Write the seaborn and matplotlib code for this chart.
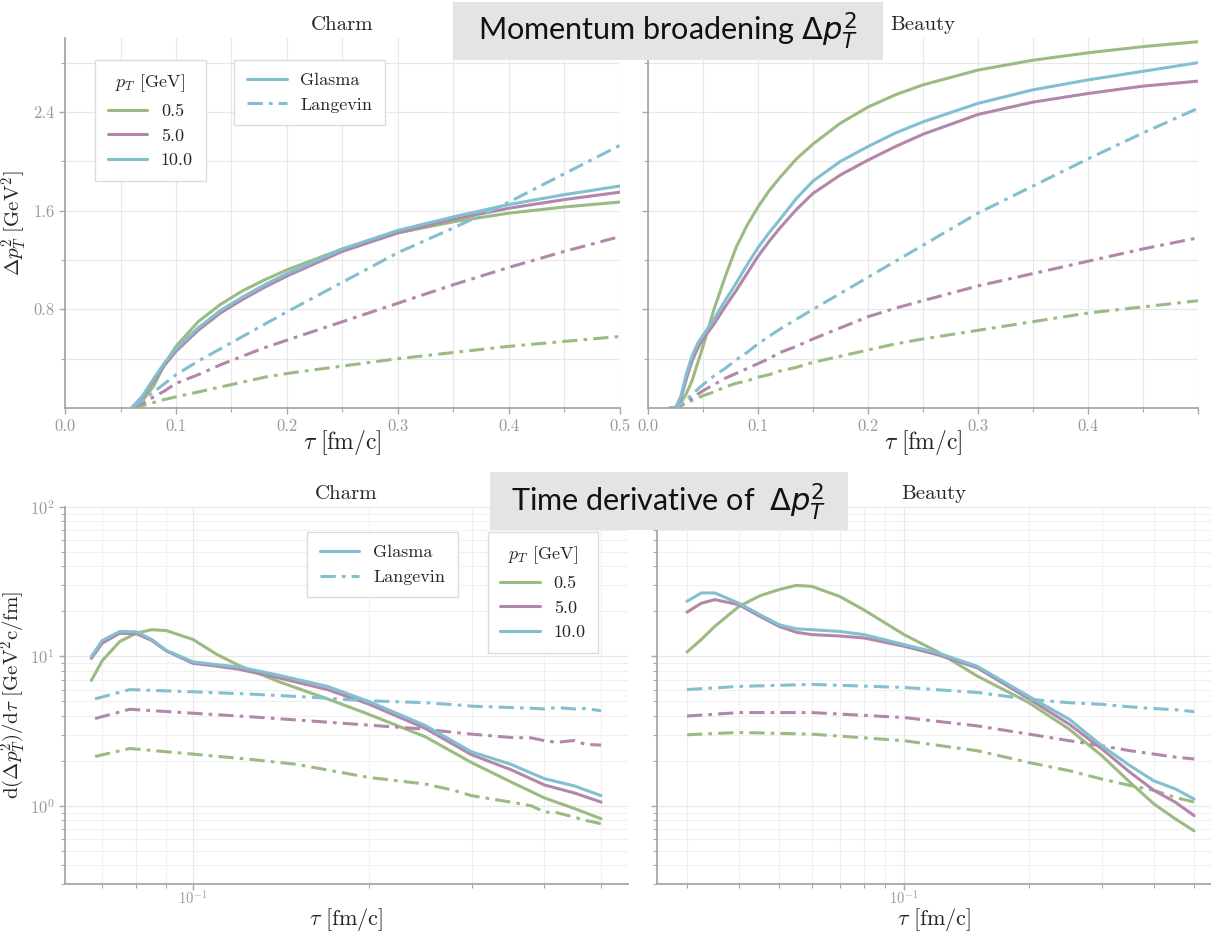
import numpy as np
import pandas as pd
import matplotlib
matplotlib.use("Agg")
import matplotlib.pyplot as plt
import seaborn as sns
from matplotlib.lines import Line2D
from matplotlib.patches import Rectangle
from matplotlib.ticker import LogLocator, NullFormatter, FixedLocator

# ---------------- data ----------------
pt_labels = ["0.5", "5.0", "10.0"]
models = ["Glasma", "Langevin"]

# Top: momentum broadening, Charm
tau_top_charm = [0.06, 0.07, 0.08, 0.09, 0.10, 0.12, 0.14, 0.16, 0.18, 0.20, 0.25, 0.30, 0.35, 0.40, 0.45, 0.50]
charm_glasma_05 = [0.0, 0.06, 0.18, 0.36, 0.50, 0.70, 0.84, 0.95, 1.04, 1.12, 1.29, 1.42, 1.51, 1.58, 1.63, 1.67]
charm_glasma_50 = [0.0, 0.09, 0.22, 0.35, 0.46, 0.63, 0.77, 0.88, 0.98, 1.07, 1.27, 1.42, 1.53, 1.62, 1.69, 1.75]
charm_glasma_100 = [0.0, 0.10, 0.24, 0.37, 0.48, 0.65, 0.79, 0.90, 1.00, 1.09, 1.29, 1.44, 1.55, 1.65, 1.73, 1.80]
charm_lang_05 = [0.0, 0.02, 0.045, 0.07, 0.09, 0.13, 0.17, 0.21, 0.25, 0.28, 0.34, 0.40, 0.45, 0.50, 0.54, 0.58]
charm_lang_50 = [0.0, 0.04, 0.09, 0.14, 0.20, 0.27, 0.35, 0.42, 0.49, 0.55, 0.70, 0.85, 1.00, 1.14, 1.27, 1.39]
charm_lang_100 = [0.0, 0.06, 0.13, 0.20, 0.27, 0.38, 0.48, 0.58, 0.68, 0.78, 1.02, 1.26, 1.46, 1.67, 1.90, 2.13]

# Top: momentum broadening, Beauty
tau_top_beauty = [0.02, 0.025, 0.03, 0.035, 0.04, 0.045, 0.05, 0.06, 0.07, 0.08, 0.09, 0.10, 0.11, 0.12,
                  0.135, 0.15, 0.175, 0.20, 0.225, 0.25, 0.30, 0.35, 0.40, 0.45, 0.50]
beauty_glasma_05 = [0.0, 0.0, 0.04, 0.12, 0.22, 0.36, 0.50, 0.80, 1.06, 1.30, 1.48, 1.63, 1.76, 1.87,
                    2.02, 2.14, 2.31, 2.44, 2.54, 2.62, 2.74, 2.82, 2.88, 2.93, 2.97]
beauty_glasma_50 = [0.0, 0.0, 0.08, 0.24, 0.38, 0.48, 0.56, 0.68, 0.82, 0.95, 1.09, 1.23, 1.35, 1.46,
                    1.61, 1.74, 1.89, 2.01, 2.12, 2.22, 2.38, 2.48, 2.55, 2.61, 2.65]
beauty_glasma_100 = [0.0, 0.0, 0.10, 0.28, 0.42, 0.52, 0.59, 0.72, 0.87, 1.01, 1.16, 1.30, 1.42, 1.53,
                     1.70, 1.84, 2.00, 2.12, 2.23, 2.32, 2.47, 2.58, 2.66, 2.73, 2.80]
beauty_lang_05 = [0.0, 0.0, 0.02, 0.04, 0.06, 0.08, 0.10, 0.13, 0.17, 0.20, 0.22, 0.25, 0.27, 0.30,
                  0.33, 0.37, 0.42, 0.47, 0.52, 0.56, 0.63, 0.70, 0.77, 0.82, 0.87]
beauty_lang_50 = [0.0, 0.0, 0.02, 0.05, 0.08, 0.11, 0.14, 0.19, 0.24, 0.28, 0.32, 0.36, 0.40, 0.45,
                  0.50, 0.56, 0.65, 0.74, 0.81, 0.87, 0.99, 1.09, 1.19, 1.29, 1.38]
beauty_lang_100 = [0.0, 0.0, 0.03, 0.07, 0.11, 0.15, 0.19, 0.26, 0.32, 0.39, 0.45, 0.52, 0.58, 0.64,
                   0.72, 0.80, 0.93, 1.06, 1.19, 1.32, 1.58, 1.80, 2.02, 2.23, 2.43]

# Bottom: time derivative, Charm
tau_bot_charm = [0.067, 0.07, 0.075, 0.08, 0.085, 0.09, 0.10, 0.11, 0.12, 0.14, 0.17, 0.20, 0.25, 0.30, 0.35, 0.40, 0.45, 0.50]
dcharm_glasma_05 = [6.9, 9.4, 12.6, 14.3, 15.1, 14.9, 13.0, 10.3, 8.7, 6.8, 5.2, 4.1, 2.9, 1.95, 1.45, 1.13, 0.96, 0.82]
dcharm_glasma_50 = [9.7, 12.3, 14.3, 14.2, 12.8, 10.9, 9.0, 8.6, 8.2, 7.2, 6.0, 4.8, 3.3, 2.2, 1.75, 1.38, 1.22, 1.06]
dcharm_glasma_100 = [10.0, 12.8, 14.7, 14.6, 13.0, 11.0, 9.2, 8.8, 8.5, 7.5, 6.3, 5.0, 3.45, 2.3, 1.9, 1.52, 1.36, 1.17]
tau_bot_charm_lang = [0.068, 0.078, 0.10, 0.125, 0.15, 0.20, 0.25, 0.28, 0.30, 0.35, 0.38, 0.40, 0.42, 0.45, 0.47, 0.50]
dcharm_lang_05 = [2.14, 2.42, 2.22, 2.05, 1.90, 1.55, 1.40, 1.27, 1.17, 1.06, 1.00, 0.91, 0.90, 0.84, 0.80, 0.76]
dcharm_lang_50 = [3.84, 4.43, 4.17, 3.95, 3.76, 3.47, 3.26, 3.10, 3.02, 2.87, 2.85, 2.73, 2.66, 2.74, 2.58, 2.55]
dcharm_lang_100 = [5.2, 6.0, 5.8, 5.6, 5.4, 5.05, 4.9, 4.75, 4.65, 4.55, 4.50, 4.45, 4.55, 4.45, 4.48, 4.33]

# Bottom: time derivative, Beauty
tau_bot_beauty = [0.03, 0.0325, 0.035, 0.04, 0.045, 0.05, 0.055, 0.06, 0.07, 0.08, 0.10, 0.12, 0.15, 0.20, 0.25, 0.30, 0.35, 0.40, 0.45, 0.50]
dbeauty_glasma_05 = [10.7, 13.0, 15.9, 21.6, 25.5, 28.0, 29.9, 29.4, 25.2, 20.5, 14.0, 10.8, 7.4, 4.9, 3.26, 2.16, 1.44, 1.03, 0.82, 0.68]
dbeauty_glasma_50 = [19.8, 22.7, 24.0, 22.2, 18.5, 15.9, 14.5, 14.0, 13.7, 13.3, 11.7, 10.3, 8.4, 5.2, 3.52, 2.4, 1.68, 1.27, 1.06, 0.86]
dbeauty_glasma_100 = [23.4, 26.6, 26.6, 22.7, 19.0, 16.3, 15.3, 15.1, 14.7, 14.0, 12.0, 10.6, 8.6, 5.4, 3.8, 2.52, 1.86, 1.47, 1.30, 1.11]
tau_bot_beauty_lang = [0.03, 0.04, 0.06, 0.10, 0.15, 0.20, 0.25, 0.30, 0.35, 0.40, 0.45, 0.50]
dbeauty_lang_05 = [2.99, 3.10, 3.02, 2.73, 2.34, 1.95, 1.72, 1.51, 1.37, 1.27, 1.14, 1.06]
dbeauty_lang_50 = [3.99, 4.21, 4.21, 3.90, 3.43, 3.02, 2.73, 2.52, 2.34, 2.22, 2.12, 2.06]
dbeauty_lang_100 = [6.0, 6.3, 6.5, 6.2, 5.74, 5.17, 4.9, 4.78, 4.6, 4.48, 4.4, 4.27]

# ---------------- style ----------------
sns.set_theme(style="whitegrid")
plt.rcParams["font.family"] = "serif"
plt.rcParams["font.serif"] = ["cmr10", "DejaVu Serif"]
plt.rcParams["mathtext.fontset"] = "cm"
plt.rcParams["axes.formatter.use_mathtext"] = True

COLORS = ["#9cbb82", "#b287aa", "#82bfd0"]
DASHES = {"Glasma": "", "Langevin": (5, 2, 1.2, 2)}
GRID = "#e8e8e8"
SPINE = "#a8a8a8"
TICKC = "#9a9a9a"
LW = 2.2


def long_df(tau_g, glasma, tau_l, lang):
    rows = []
    for lab, vals in zip(pt_labels, glasma):
        for t, v in zip(tau_g, vals):
            rows.append((t, v, lab, "Glasma"))
    for lab, vals in zip(pt_labels, lang):
        for t, v in zip(tau_l, vals):
            rows.append((t, v, lab, "Langevin"))
    return pd.DataFrame(rows, columns=["tau", "val", "pT", "model"])


W, H = 1211, 931


def rect(l, r, t, b):
    return [l / W, 1 - b / H, (r - l) / W, (b - t) / H]


fig = plt.figure(figsize=(W / 100, H / 100), dpi=100)
ax_tc = fig.add_axes(rect(65, 620, 38, 408))
ax_tb = fig.add_axes(rect(648, 1198, 38, 408))
ax_bc = fig.add_axes(rect(65, 628, 507, 884))
ax_bb = fig.add_axes(rect(657, 1211, 507, 884))

panels = [
    (ax_tc, long_df(tau_top_charm, [charm_glasma_05, charm_glasma_50, charm_glasma_100],
                    tau_top_charm, [charm_lang_05, charm_lang_50, charm_lang_100])),
    (ax_tb, long_df(tau_top_beauty, [beauty_glasma_05, beauty_glasma_50, beauty_glasma_100],
                    tau_top_beauty, [beauty_lang_05, beauty_lang_50, beauty_lang_100])),
    (ax_bc, long_df(tau_bot_charm, [dcharm_glasma_05, dcharm_glasma_50, dcharm_glasma_100],
                    tau_bot_charm_lang, [dcharm_lang_05, dcharm_lang_50, dcharm_lang_100])),
    (ax_bb, long_df(tau_bot_beauty, [dbeauty_glasma_05, dbeauty_glasma_50, dbeauty_glasma_100],
                    tau_bot_beauty_lang, [dbeauty_lang_05, dbeauty_lang_50, dbeauty_lang_100])),
]

for ax, df in panels:
    sns.lineplot(data=df, x="tau", y="val", hue="pT", style="model",
                 hue_order=pt_labels, palette=COLORS, style_order=models,
                 dashes=DASHES, estimator=None, linewidth=LW, legend=False, ax=ax)


def style_axes(ax, ylabels=True):
    ax.set_facecolor("white")
    for s in ["top", "right"]:
        ax.spines[s].set_visible(False)
    for s in ["left", "bottom"]:
        ax.spines[s].set_color(SPINE)
        ax.spines[s].set_linewidth(1.3)
    ax.grid(True, which="major", color=GRID, linewidth=0.9)
    ax.grid(True, which="minor", color="#f0f0f0", linewidth=0.8)
    ax.tick_params(which="both", direction="out", color=SPINE, labelcolor=TICKC,
                   labelsize=12, bottom=True, left=True)
    ax.tick_params(which="major", length=4, width=1)
    ax.tick_params(which="minor", length=3, width=0.8)
    if not ylabels:
        ax.tick_params(axis="y", which="both", labelleft=False)


XLABEL = r"$\tau\ [\mathrm{fm/c}]$"

# top panels
for ax, title in [(ax_tc, "Charm"), (ax_tb, "Beauty")]:
    ax.set_xlim(0, 0.5)
    ax.set_ylim(0, 3.0)
    ax.xaxis.set_major_locator(FixedLocator([0.0, 0.1, 0.2, 0.3, 0.4, 0.5]))
    ax.xaxis.set_minor_locator(FixedLocator([0.05, 0.15, 0.25, 0.35, 0.45]))
    ax.yaxis.set_major_locator(FixedLocator([0.8, 1.6, 2.4]))
    ax.yaxis.set_minor_locator(FixedLocator([0.4, 1.2, 2.0, 2.8]))
    ax.set_title(title, fontsize=15, pad=6)
style_axes(ax_tc)
style_axes(ax_tb, ylabels=False)
for ax in (ax_tc, ax_tb):
    ax.grid(True, which="minor", color=GRID, linewidth=0.9)
    ax.set_xlabel(XLABEL, fontsize=17)
    ax.xaxis.set_label_coords(0.5, -0.055)
ax_tc.set_xticklabels(["0.0", "0.1", "0.2", "0.3", "0.4", "0.5"])
ax_tb.set_xticklabels(["0.0", "0.1", "0.2", "0.3", "0.4", ""])
ax_tc.set_yticklabels(["0.8", "1.6", "2.4"])
ax_tc.set_ylabel(r"$\Delta p_T^2\ [\mathrm{GeV}^2]$", fontsize=15, labelpad=3)
ax_tb.set_ylabel("")

# bottom panels
for ax, title, xl in [(ax_bc, "Charm", (0.0604, 0.556)), (ax_bb, "Beauty", (0.0254, 0.549))]:
    ax.set_xscale("log")
    ax.set_yscale("log")
    ax.set_xlim(*xl)
    ax.set_ylim(0.3, 100)
    ax.xaxis.set_minor_locator(LogLocator(base=10, subs=np.arange(2, 10), numticks=20))
    ax.xaxis.set_minor_formatter(NullFormatter())
    ax.yaxis.set_major_locator(LogLocator(base=10, numticks=10))
    ax.yaxis.set_minor_locator(LogLocator(base=10, subs=np.arange(2, 10), numticks=20))
    ax.yaxis.set_minor_formatter(NullFormatter())
    ax.set_title(title, fontsize=15, pad=6)
style_axes(ax_bc)
style_axes(ax_bb, ylabels=False)
ax_bc.set_ylabel(r"$\mathrm{d}(\Delta p_T^2)/\mathrm{d}\tau\ [\mathrm{GeV}^2\mathrm{c}/\mathrm{fm}]$",
                 fontsize=15, labelpad=2)
ax_bb.set_ylabel("")
for ax in (ax_bc, ax_bb):
    ax.tick_params(axis="x", which="both", pad=0.0, labelsize=10.5)
    ax.set_xlabel(XLABEL, fontsize=16)
    ax.xaxis.set_label_coords(0.5, -0.058)

# legends
pt_handles = [Line2D([], [], color=c, lw=LW) for c in COLORS]
mod_handles = [Line2D([], [], color=COLORS[2], lw=LW),
               Line2D([], [], color=COLORS[2], lw=LW, dashes=DASHES["Langevin"])]
leg_kw = dict(prop={"family": "serif", "size": 13}, frameon=True, fancybox=False, framealpha=1.0,
              edgecolor="#dcdcdc", handlelength=2.2, borderpad=0.7, labelspacing=0.5,
              handletextpad=0.75, borderaxespad=0.0)


def add_legends(ax, pt_pos, mod_pos):
    l1 = ax.legend(pt_handles, pt_labels, title=r"$p_T$ [GeV]", loc="upper left",
                   bbox_to_anchor=pt_pos, title_fontproperties={"family": "serif", "size": 13},
                   **leg_kw)
    l1.get_frame().set_linewidth(1.0)
    ax.add_artist(l1)
    l2 = ax.legend(mod_handles, models, loc="upper left", bbox_to_anchor=mod_pos, **leg_kw)
    l2.get_frame().set_linewidth(1.0)


add_legends(ax_tc, (0.054, 0.941), (0.305, 0.941))
add_legends(ax_bc, (0.751, 0.934), (0.43, 0.934))

# gray heading boxes
for (l, r, t, b, txt) in [(453, 883, 2, 60, r"Momentum broadening $\Delta p_T^2$"),
                          (490, 848, 472, 530, r"Time derivative of  $\Delta p_T^2$")]:
    fig.patches.append(Rectangle((l / W, 1 - b / H), (r - l) / W, (b - t) / H,
                                 transform=fig.transFigure, facecolor="#e4e4e4",
                                 edgecolor="none", zorder=5))
    fig.text((l + r) / 2 / W, 1 - (t + b) / 2 / H, txt, ha="center", va="center",
             fontsize=22, family="Lato", math_fontfamily="dejavusans", color="#111111",
             zorder=6)

fig.savefig("out.png", dpi=100)
